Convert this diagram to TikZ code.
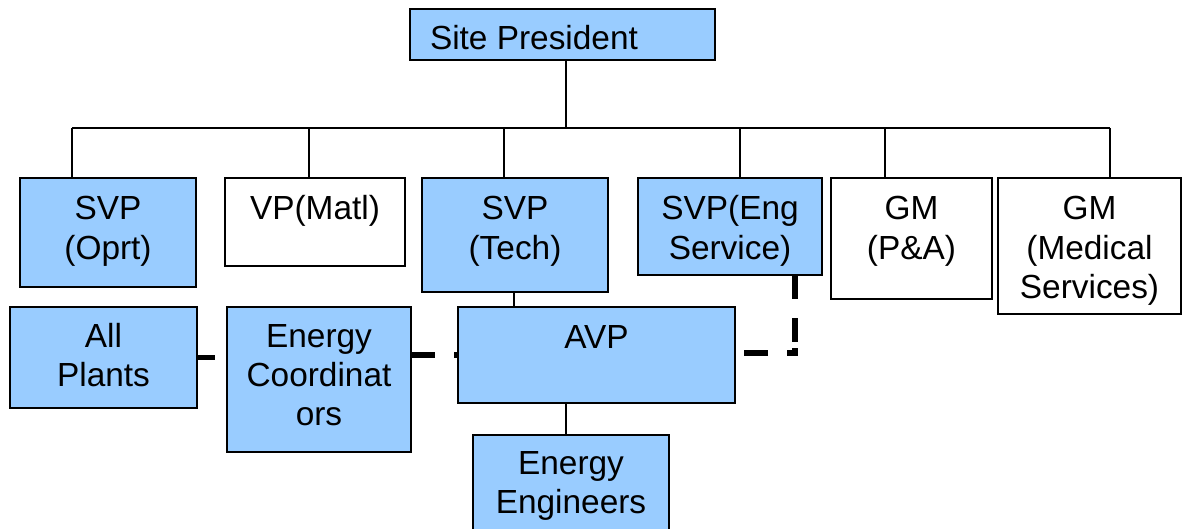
\documentclass[tikz,border=0pt]{standalone}
\usepackage{fontspec}
\setmainfont{Liberation Sans}
\usetikzlibrary{calc}
\definecolor{boxblue}{RGB}{153,204,255}
% box content: width, height, first baseline depth from top, lines
\newcommand\orgtxt[4]{\parbox[c][#2][t]{#1}{\centering\rule{0pt}{#3}#4}}
\begin{document}
\begin{tikzpicture}[x=0.5pt,y=-0.5pt,
  font=\fontsize{16.7pt}{19.6pt}\selectfont,
  orgbox/.style={draw=black, line width=0.8pt, inner sep=0pt, outer sep=0pt},
  filled/.style={orgbox, fill=boxblue},
  plain/.style={orgbox, fill=white},
  link/.style={line width=0.8pt},
  advisory/.style={line width=2.75pt, dash pattern=on 12pt off 9.5pt}]
\useasboundingbox (0,0) rectangle (1183,529);
\clip (0,0) rectangle (1183,529);

% top
\node[filled] (sp) at (562.5,34.5)
  {\parbox[c][25.5pt][t]{152.5pt}{\hspace*{10pt}\rule{0pt}{20.5pt}Site President}};

% direct reports
\node[filled] (svpo) at (108,232.5)  {\orgtxt{88pt}{54.5pt}{21pt}{SVP\\(Oprt)}};
\node[plain]  (vpm)  at (315,222)    {\orgtxt{90pt}{44pt}{21pt}{VP(Matl)}};
\node[filled] (svpt) at (515,235)    {\orgtxt{93pt}{57pt}{21pt}{SVP\\(Tech)}};
\node[filled] (svpe) at (730,226.5)  {\orgtxt{92pt}{48.5pt}{21pt}{SVP(Eng\\Service)}};
\node[plain]  (gmpa) at (911.5,238.5){\orgtxt{80.5pt}{60.5pt}{21pt}{GM\\(P\&A)}};
\node[plain]  (gmms) at (1089.5,246) {\orgtxt{91.5pt}{68pt}{21pt}{GM\\(Medical\\Services)}};

% second level
\node[filled] (allp)   at (103.5,357.5) {\orgtxt{93.5pt}{50.5pt}{20pt}{All\\Plants}};
\node[filled] (ecoord) at (319,379.5)   {\orgtxt{92pt}{72.5pt}{20pt}{Energy\\Coordinat\\ors}};
\node[filled] (avp)    at (596.5,355)   {\orgtxt{138.5pt}{48pt}{20.5pt}{AVP}};
\node[filled] (eeng)   at (571,497.5)   {\orgtxt{98pt}{62.5pt}{19.5pt}{Energy\\Engineers}};

% reporting lines
\coordinate (busL) at (72,128);
\coordinate (busR) at (1110,128);
\draw[link] ([xshift=1.75pt]sp.south) -- ([xshift=1.75pt]sp.south |- busL);
\draw[link] (busL) -- (busR);
\foreach \x/\n in {72/svpo,309/vpm,504/svpt,740/svpe,885/gmpa,1110/gmms}{
  \coordinate (tap-\n) at (\x,128);
  \draw[link] (tap-\n) -- (tap-\n |- \n.north);
}
\draw[link] ([xshift=-0.5pt]svpt.south) -- ([xshift=-0.5pt]svpt.south |- avp.north);
\coordinate (eengtap) at (566,0);
\draw[link] (avp.south -| eengtap) -- (eeng.north -| eengtap);

% coordination lines
\draw[advisory, dash phase=3pt] (allp.east) -- (allp.east -| ecoord.west);
\draw[advisory] (avp.west -| ecoord.east) -- (avp.west);
\coordinate (elbow) at (795,353);
\draw[advisory, dash pattern=on 12pt off 9.5pt on 12pt off 3pt on 6.5pt off 9.5pt on 12pt off 4.5pt]
  (svpe.south -| elbow) -- (elbow) -- (elbow -| avp.east);
\end{tikzpicture}
\end{document}
